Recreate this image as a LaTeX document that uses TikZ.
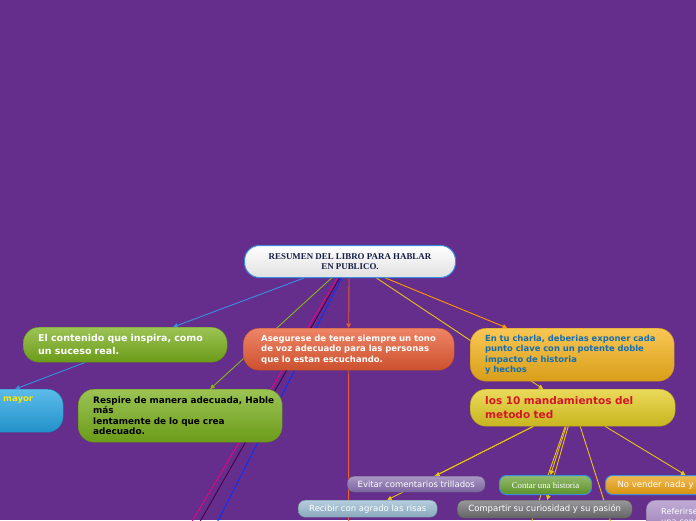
\documentclass[tikz,border=0pt]{standalone}
\usepackage{fontspec}
\setmainfont{DejaVu Sans}
\newfontfamily\serifb{Liberation Serif}
\usetikzlibrary{arrows.meta,positioning,backgrounds}
\definecolor{bgpurple}{RGB}{101,45,140}
\definecolor{grass}{RGB}{122,176,28}
\definecolor{sky}{RGB}{38,165,228}
\definecolor{coral}{RGB}{232,92,52}
\definecolor{honey}{RGB}{246,180,28}
\definecolor{lemon}{RGB}{228,206,35}
\definecolor{lilac}{RGB}{132,108,172}
\definecolor{moss}{RGB}{100,158,45}
\definecolor{tangerine}{RGB}{234,158,12}
\definecolor{frost}{RGB}{150,184,206}
\definecolor{slate}{RGB}{108,108,112}
\definecolor{mauve}{RGB}{165,135,195}
\definecolor{edge}{RGB}{55,145,222}
\definecolor{navy}{RGB}{22,30,72}
\definecolor{ocean}{RGB}{22,110,178}
\definecolor{crimson}{RGB}{212,22,42}
\definecolor{mustard}{RGB}{228,196,22}
\tikzset{
  >={Triangle[length=4.5pt,width=4.5pt]},
  bigbox/.style={draw=#1!80!black,top color=#1!75!white,bottom color=#1!88!black,
    rounded corners=16pt,inner xsep=15pt,inner ysep=2pt,align=left,anchor=north west,
    font=\bfseries\fontsize{8.9}{10.5}\selectfont},
  bigbox/.default=grass,
  chip/.style={draw=#1!70!black,top color=#1!70!white,bottom color=#1!92!black,
    rounded corners=7pt,inner sep=0pt,anchor=north west,text=white,
    font=\fontsize{8.5}{9.5}\selectfont},
  chip/.default=lilac,
  link/.style={->,draw=#1,line width=0.9pt},
  link/.default=mustard,
}
\begin{document}
\begin{tikzpicture}[x=1pt,y=-1pt]
  \useasboundingbox (0,0) rectangle (696,520);
  % centro
  \node[draw=edge,line width=1pt,top color=white,bottom color=black!12,rounded corners=15pt,
    minimum width=211pt,minimum height=32pt,anchor=north west,align=center,text=navy,
    font=\serifb\bfseries\fontsize{8.9}{9.8}\selectfont] (central) at (244,245)
    {RESUMEN DEL LIBRO PARA HABLAR\\EN PUBLICO.};
  % rama izquierda
  \node[bigbox=grass,text width=174pt,minimum height=35pt,text=white,
    font=\bfseries\fontsize{9.5}{13.5}\selectfont] (contenido) at (23,327)
    {El contenido que inspira, como\\un suceso real.};
  \node[bigbox=sky,text width=173pt,minimum height=43pt] (azul) at (-140,389) {};
  \node[anchor=west,text=yellow!90!orange,inner sep=0pt,
    font=\bfseries\fontsize{8.5}{10.5}\selectfont] (mayor) at (3,400) {mayor};
  \node[bigbox=grass,text width=174pt,minimum height=53pt,text=black] (respire) at (78,389)
    {\mbox{Respire de manera adecuada, Hable}\\más\\lentamente de lo que crea\\adecuado.};
  \node[bigbox=coral,text width=175pt,minimum height=42pt,text=white,inner xsep=18pt,
    font=\bfseries\fontsize{8.5}{10.5}\selectfont] (asegurese) at (243,328)
    {Asegurese de tener siempre un tono\\de voz adecuado para las personas\\que lo estan escuchando.};
  % rama derecha
  \node[bigbox=honey,text width=174pt,minimum height=53pt,text=ocean,
    font=\bfseries\fontsize{8.4}{10.3}\selectfont] (charla) at (470,328)
    {En tu charla, deberias exponer cada\\punto clave con un potente doble\\impacto de historia\\y hechos};
  \node[bigbox=lemon,text width=175pt,minimum height=37pt,text=crimson,
    font=\bfseries\fontsize{10.5}{14}\selectfont] (mandamientos) at (470,389)
    {los 10 mandamientos del\\metodo ted};
  % hijos
  \node[chip=lilac,minimum width=138pt,minimum height=16pt] (evitar) at (347,476)
    {Evitar comentarios trillados};
  \node[chip=moss,draw=edge,line width=1pt,minimum width=92pt,minimum height=19pt,
    font=\serifb\fontsize{8.8}{9.5}\selectfont] (contar) at (499,475) {Contar una historia};
  \node[chip=tangerine,draw=edge,line width=1pt,minimum width=154pt,minimum height=19pt,
    text width=130pt,align=left,inner xsep=12pt] (vender) at (605,475) {No vender nada y};
  \node[chip=frost,minimum width=139pt,minimum height=17pt] (recibir) at (298,500)
    {Recibir con agrado las risas};
  \node[chip=slate,minimum width=175pt,minimum height=18pt] (compartir) at (457,500)
    {Compartir su curiosidad y su pasión};
  \node[chip=mauve,rounded corners=9pt,minimum width=110pt,minimum height=34pt,
    text width=90pt,align=left,inner xsep=15pt,inner ysep=3pt,anchor=north west,
    font=\fontsize{8.2}{9.2}\selectfont] (referirse) at (646,500) {Referirse\\una cone\vphantom{g}\\[9pt]};
  % extremos fuera del cuadro
  \coordinate (baja1) at (348.5,560);
  \coordinate (baja2) at (169,560);
  \coordinate (baja3) at (178,560);
  \coordinate (baja4) at (198,560);
  \coordinate (baja5) at (518,560);
  \coordinate (baja6) at (623,560);
  \begin{scope}[on background layer]
    \fill[bgpurple] (0,0) rectangle (696,520);
    \draw[link=edge] ([xshift=-46pt]central.south) -- ([xshift=48pt]contenido.north);
    \draw[link=edge] ([xshift=-40pt]contenido.south) -- ([xshift=53.5pt]azul.north);
    \draw[link=grass!90!yellow] ([xshift=-18.5pt]central.south) -- ([xshift=30pt]respire.north);
    \draw[link=coral] ([xshift=-1pt]central.south) -- (asegurese.north);
    \draw[link=coral] (asegurese.south) -- (baja1);
    \draw[link={magenta!85!red}] ([xshift=-12.5pt]central.south) -- (baja2);
    \draw[link={violet!55!black}] ([xshift=-10.5pt]central.south) -- (baja3);
    \draw[link={blue!80!cyan}] ([xshift=-8.5pt]central.south) -- (baja4);
    \draw[link={orange!80!yellow}] ([xshift=35.5pt]central.south) -- ([xshift=-65pt]charla.north);
    \draw[link] ([xshift=26.5pt]central.south) -- ([xshift=-29.5pt]mandamientos.north);
    \draw[link] ([xshift=-39.5pt]mandamientos.south) -- ([xshift=19pt]evitar.north);
    \draw[link] ([xshift=-39.5pt]mandamientos.south) -- ([xshift=19.5pt]recibir.north);
    \draw[link] ([xshift=-6.5pt]mandamientos.south) -- ([xshift=5pt]contar.north);
    \draw[link] ([xshift=-4.5pt]mandamientos.south) -- ([xshift=2.5pt]compartir.north);
    \draw[link] ([xshift=-7.5pt]mandamientos.south) -- (baja5);
    \draw[link] ([xshift=7.5pt]mandamientos.south) -- (baja6);
    \draw[link] ([xshift=32.5pt]mandamientos.south) -- ([xshift=3pt]vender.north);
  \end{scope}
\end{tikzpicture}
\end{document}
